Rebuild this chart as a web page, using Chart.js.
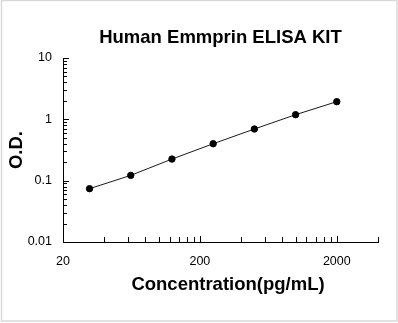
<!DOCTYPE html>
<html>
<head>
<meta charset="utf-8">
<script src="https://cdn.jsdelivr.net/npm/chart.js@4"></script>
<style>
  html, body { margin: 0; padding: 0; background: #fff; }
  #wrap { width: 398px; height: 323px; }
</style>
</head>
<body>
<div id="wrap"><canvas id="myChart" width="398" height="323"></canvas></div>
<script>
// standard curve points
var concentrations = [31.25, 62.5, 125, 250, 500, 1000, 2000];
var odValues = [0.074, 0.122, 0.225, 0.40, 0.695, 1.19, 1.94];

// tick marks (labels only on the listed ones)
var xTickValues = [20, 40, 60, 80, 100, 120, 140, 160, 180, 200, 400, 600, 800, 1000, 1200, 1400, 1600, 1800, 2000, 4000];
var xTickLabels = [20, 200, 2000];
var yTickValues = [0.01, 0.02, 0.03, 0.04, 0.05, 0.06, 0.07, 0.08, 0.09,
                   0.1, 0.2, 0.3, 0.4, 0.5, 0.6, 0.7, 0.8, 0.9,
                   1, 2, 3, 4, 5, 6, 7, 8, 9, 10];
var yTickLabels = [0.01, 0.1, 1, 10];

var titleText = "Human Emmprin ELISA KIT";
var xTitle = "Concentration(pg/mL)";
var yTitle = "O.D.";

var points = [];
for (var i = 0; i < concentrations.length; i++) {
  points.push({ x: concentrations[i], y: odValues[i] });
}

// white background + light frame, inward tick marks, x axis title
var framePlugin = {
  id: "frame",
  beforeDraw: function (chart) {
    var c = chart.ctx;
    c.save();
    c.fillStyle = "#fff";
    c.fillRect(0, 0, chart.width, chart.height);
    c.strokeStyle = "#d9d9d9";
    c.lineWidth = 1.5;
    c.strokeRect(1.5, 0.5, 395.5, 320.5);
    c.restore();
  },
  afterDraw: function (chart) {
    var c = chart.ctx;
    var xs = chart.scales.x, ys = chart.scales.y;
    var area = chart.chartArea;
    c.save();
    c.strokeStyle = "#000";
    c.lineWidth = 1;
    c.beginPath();
    xTickValues.forEach(function (v) {
      var px = Math.round(xs.getPixelForValue(v)) + 0.5;
      var len = xTickLabels.indexOf(v) >= 0 ? 6 : 5;
      c.moveTo(px, area.bottom);
      c.lineTo(px, area.bottom - len);
    });
    yTickValues.forEach(function (v) {
      var py = Math.round(ys.getPixelForValue(v)) + 0.5;
      var len = yTickLabels.indexOf(v) >= 0 ? 6 : 4;
      c.moveTo(area.left, py);
      c.lineTo(area.left + len, py);
    });
    c.stroke();
    c.fillStyle = "#000";
    c.font = "bold 18.5px Arial, 'Liberation Sans', sans-serif";
    c.textAlign = "center";
    c.textBaseline = "middle";
    c.fillText(xTitle, 228, 285);
    c.restore();
  }
};

var ctx = document.getElementById("myChart");
var myChart = new Chart(ctx, {
  type: "line",
  data: {
    datasets: [{
      data: points,
      borderColor: "#1a1a1a",
      borderWidth: 1,
      backgroundColor: "#000",
      pointBackgroundColor: "#000",
      pointBorderColor: "#000",
      pointRadius: 3.2,
      tension: 0
    }]
  },
  options: {
    responsive: false,
    animation: false,
    events: [],
    layout: { padding: { left: 0, right: 20, top: 0, bottom: 0 } },
    plugins: {
      legend: { display: false },
      tooltip: { enabled: false },
      title: {
        display: true,
        text: titleText,
        fullSize: false,
        color: "#000",
        font: { family: "Arial, 'Liberation Sans', sans-serif", size: 18.5, weight: "bold" },
        padding: { top: 27, bottom: 8.8 }
      }
    },
    scales: {
      x: {
        type: "logarithmic",
        min: 20,
        max: 4000,
        afterBuildTicks: function (scale) {
          scale.ticks = xTickValues.map(function (v) { return { value: v }; });
        },
        afterFit: function (scale) { scale.height = 81; },
        grid: { display: false, drawTicks: false },
        border: { display: true, color: "#000", width: 1 },
        ticks: {
          autoSkip: false,
          maxRotation: 0,
          padding: 12,
          color: "#000",
          font: { family: "Arial, 'Liberation Sans', sans-serif", size: 12.5 },
          callback: function (value) {
            return xTickLabels.indexOf(value) >= 0 ? String(value) : "";
          }
        },
        title: { display: false }
      },
      y: {
        type: "logarithmic",
        min: 0.01,
        max: 10,
        afterBuildTicks: function (scale) {
          scale.ticks = yTickValues.map(function (v) { return { value: v }; });
        },
        afterFit: function (scale) { scale.width = 63; },
        grid: { display: false, drawTicks: false },
        border: { display: true, color: "#000", width: 1 },
        ticks: {
          autoSkip: false,
          padding: 11,
          color: "#000",
          font: { family: "Arial, 'Liberation Sans', sans-serif", size: 12.5 },
          callback: function (value) {
            return yTickLabels.indexOf(value) >= 0 ? String(value) : "";
          }
        },
        title: {
          display: true,
          text: yTitle,
          color: "#000",
          font: { family: "Arial, 'Liberation Sans', sans-serif", size: 18.5, weight: "bold" },
          padding: { top: 5.4, bottom: 0 }
        }
      }
    }
  },
  plugins: [framePlugin]
});
</script>
</body>
</html>
